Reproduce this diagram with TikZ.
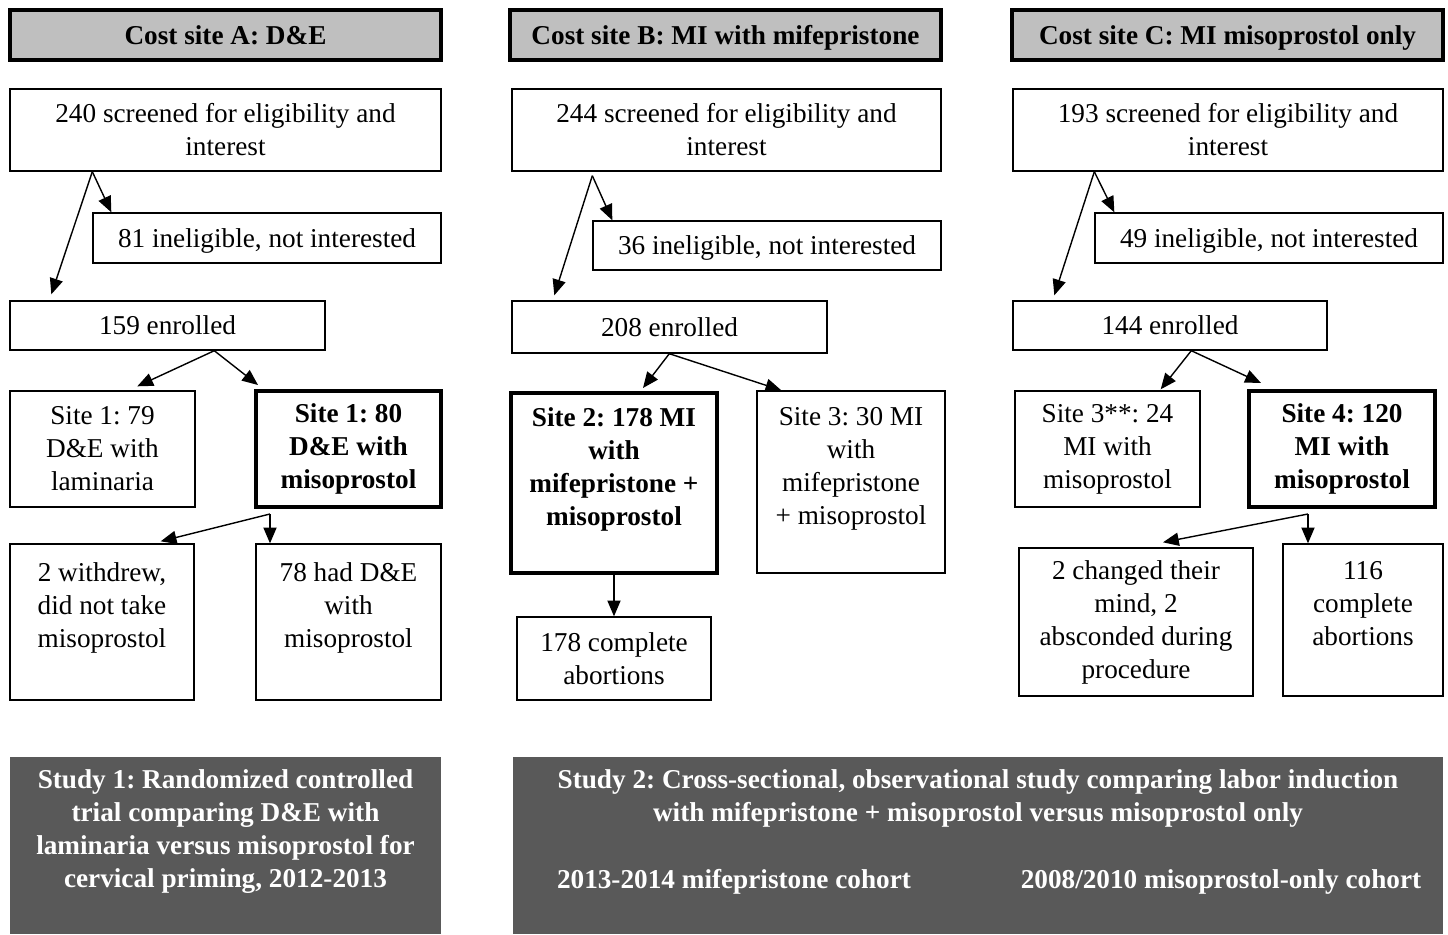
\documentclass[tikz,border=0pt]{standalone}
\usepackage{fontspec}
\setmainfont{Liberation Serif}
\frenchspacing
\usetikzlibrary{arrows.meta, positioning}
\definecolor{headgray}{RGB}{191,191,191}
\definecolor{studygray}{RGB}{89,89,89}

\begin{document}
\begin{tikzpicture}[
    x=0.02cm, y=-0.02cm,
    font=\fontsize{15.5}{18.8}\selectfont,
    % Styles
    header/.style={
        rectangle,
        draw=black,
        fill=headgray,
        line width=2.2pt,
        minimum width=8.62cm,
        minimum height=1cm,
        text depth=0pt,
        font=\fontsize{15.5}{18.8}\selectfont\bfseries
    },
    box/.style={
        rectangle,
        draw=black,
        line width=0.8pt,
        align=center,
        inner sep=2pt
    },
    sitebox/.style={
        box,
        line width=2.3pt,
        font=\fontsize{15.5}{18.8}\selectfont\bfseries
    },
    study/.style={
        rectangle,
        fill=studygray,
        text=white,
        align=center,
        font=\fontsize{15.5}{18.8}\selectfont\bfseries
    },
    cohort/.style={
        text=white,
        font=\fontsize{15.5}{18.8}\selectfont\bfseries
    },
    arrow/.style={
        -{Triangle[length=9pt,width=7.5pt]},
        line width=0.8pt
    }
]
\useasboundingbox (0,0) rectangle (1448,934);

% Cost site headers
\node[header] (headA) at (225.5,35) {Cost site A: D\&E};
\node[header] (headB) at (725.5,35) {Cost site B: MI with mifepristone};
\node[header] (headC) at (1227.5,35) {Cost site C: MI misoprostol only};

% Screening
\node[box, minimum width=8.62cm, minimum height=1.64cm] (scrA) at (225.5,130) {240 screened for eligibility and\\interest};
\node[box, minimum width=8.58cm, minimum height=1.64cm] (scrB) at (726.5,130) {244 screened for eligibility and\\interest};
\node[box, minimum width=8.6cm, minimum height=1.64cm] (scrC) at (1228,130) {193 screened for eligibility and\\interest};

% Ineligible
\node[box, text depth=0pt, minimum width=6.96cm, minimum height=1cm] (ineA) at (267,238) {81 ineligible, not interested};
\node[box, text depth=0pt, minimum width=6.96cm, minimum height=0.98cm] (ineB) at (767,245.5) {36 ineligible, not interested};
\node[box, text depth=0pt, minimum width=6.96cm, minimum height=1cm] (ineC) at (1269,238) {49 ineligible, not interested};

% Enrolled
\node[box, text depth=0pt, minimum width=6.3cm, minimum height=0.98cm] (enrA) at (167.5,325.5) {159 enrolled};
\node[box, text depth=0pt, minimum width=6.3cm, minimum height=1.04cm] (enrB) at (669.5,327) {208 enrolled};
\node[box, text depth=0pt, minimum width=6.28cm, minimum height=0.98cm] (enrC) at (1170,325.5) {144 enrolled};

% Sites
\node[box, minimum width=3.7cm, minimum height=2.32cm] (siteA1) at (102.5,449) {Site 1: 79\\D\&E with\\laminaria};
\node[sitebox, minimum width=3.7cm, minimum height=2.32cm] (siteA2) at (348.5,449) {Site 1: 80\\D\&E with\\misoprostol};
\node[sitebox, minimum width=4.12cm, minimum height=3.6cm] (siteB1) at (614,483) {Site 2: 178 MI\\with\\mifepristone +\\misoprostol\\ \mbox{}};
\node[box, minimum width=3.76cm, minimum height=3.64cm] (siteB2) at (851,482) {Site 3: 30 MI\\with\\mifepristone\\+ misoprostol\\ \mbox{}};
\node[box, minimum width=3.7cm, minimum height=2.32cm] (siteC1) at (1107.5,449) {Site 3**: 24\\MI with\\misoprostol};
\node[sitebox, minimum width=3.72cm, minimum height=2.32cm] (siteC2) at (1342,449) {Site 4: 120\\MI with\\misoprostol};

% Outcomes
\node[box, minimum width=3.68cm, minimum height=3.12cm] (outA1) at (102,622) {2 withdrew,\\did not take\\misoprostol\\ \mbox{}};
\node[box, minimum width=3.7cm, minimum height=3.12cm] (outA2) at (348.5,622) {78 had D\&E\\with\\misoprostol\\ \mbox{}};
\node[box, minimum width=3.88cm, minimum height=1.66cm] (outB) at (614,658.5) {178 complete\\abortions};
\node[box, minimum width=4.68cm, minimum height=2.96cm] (outC1) at (1136,622) {2 changed their\\mind, 2\\absconded during\\procedure};
\node[box, minimum width=3.2cm, minimum height=3.04cm] (outC2) at (1363,620) {116\\complete\\abortions\\ \mbox{}};

% Study boxes
\node[study, minimum width=8.62cm, minimum height=3.54cm] (studyA) at (225.5,845.5) {Study 1: Randomized controlled\\trial comparing D\&E with\\laminaria versus misoprostol for\\cervical priming, 2012-2013\\ \mbox{}};
\node[study, minimum width=18.6cm, minimum height=3.54cm] (studyB) at (978,845.5) {Study 2: Cross-sectional, observational study comparing labor induction\\with mifepristone + misoprostol versus misoprostol only\\ \mbox{}\\ \mbox{}\\ \mbox{}};
\node[cohort] (cohB) at (734,882) {2013-2014 mifepristone cohort};
\node[cohort] (cohC) at (1221,882) {2008/2010 misoprostol-only cohort};

% Screening splits
\coordinate (splitA) at ([xshift=1.66cm]scrA.south west);
\draw[arrow] (splitA) -- ([shift={(0.84cm,0.12cm)}]enrA.north west);
\draw[arrow] (splitA) -- ([xshift=0.38cm]ineA.north west);
\coordinate (splitB) at ([shift={(1.62cm,-0.08cm)}]scrB.south west);
\draw[arrow] (splitB) -- ([shift={(0.86cm,0.1cm)}]enrB.north west);
\draw[arrow] (splitB) -- ([xshift=0.4cm]ineB.north west);
\coordinate (splitC) at ([xshift=1.64cm]scrC.south west);
\draw[arrow] (splitC) -- ([shift={(0.84cm,0.1cm)}]enrC.north west);
\draw[arrow] (splitC) -- ([xshift=0.4cm]ineC.north west);

% Enrolled splits
\coordinate (forkA) at ([xshift=4.1cm]enrA.south west);
\draw[arrow] (forkA) -- ([shift={(2.56cm,0.08cm)}]siteA1.north west);
\draw[arrow] (forkA) -- ([shift={(0.08cm,0.08cm)}]siteA2.north west);
\coordinate (forkB) at ([xshift=3.16cm]enrB.south west);
\draw[arrow] (forkB) -- ([shift={(2.68cm,0.06cm)}]siteB1.north west);
\draw[arrow] (forkB) -- ([xshift=0.5cm]siteB2.north west);
\coordinate (forkC) at ([xshift=3.58cm]enrC.south west);
\draw[arrow] (forkC) -- ([shift={(-0.8cm,0.02cm)}]siteC1.north east);
\draw[arrow] (forkC) -- ([shift={(0.28cm,0.12cm)}]siteC2.north west);

% Outcome splits
\coordinate (forkA2) at ([shift={(0.32cm,-0.1cm)}]siteA2.south west);
\draw[arrow] (forkA2) -- ([shift={(-0.68cm,0.04cm)}]outA1.north east);
\draw[arrow] (forkA2) -- (forkA2 |- outA2.north);
\draw[arrow] (siteB1) -- (outB);
\coordinate (forkC2) at ([shift={(1.22cm,-0.1cm)}]siteC2.south west);
\draw[arrow] (forkC2) -- ([shift={(0.54cm,0.1cm)}]outC1.north);
\draw[arrow] (forkC2) -- (forkC2 |- outC2.north);

\end{tikzpicture}
\end{document}
